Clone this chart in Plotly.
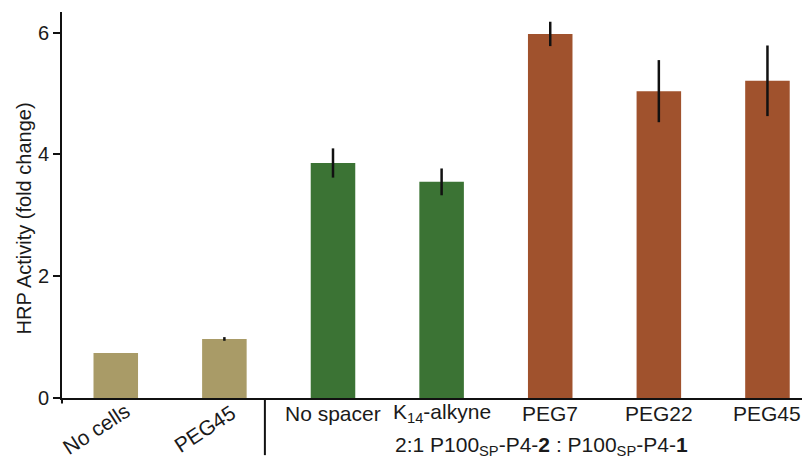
import plotly.graph_objects as go

categories = ["No cells", "PEG45", "No spacer", "K<sub>14</sub>-alkyne", "PEG7", "PEG22", "PEG45"]
values = [0.74, 0.97, 3.86, 3.55, 5.98, 5.04, 5.21]
errors = [0.0, 0.03, 0.24, 0.22, 0.20, 0.51, 0.58]
colors = ["#A99B67", "#A99B67", "#3B7334", "#3B7334", "#A0522D", "#A0522D", "#A0522D"]
rotated = [True, True, False, False, False, False, False]
y_ticks = [0, 2, 4, 6]
group_label = "2:1 P100<sub>SP</sub>-P4-<b>2</b> : P100<sub>SP</sub>-P4-<b>1</b>"
y_title = "HRP Activity (fold change)"

FONT = "Arial, 'Liberation Sans', sans-serif"
xs = list(range(len(categories)))

fig = go.Figure()
fig.add_trace(go.Bar(
    x=xs, y=values, width=0.41,
    marker=dict(color=colors, line=dict(width=0)),
    error_y=dict(type="data", array=errors, visible=True, color="#111111", thickness=2.5, width=0),
    showlegend=False,
))

annotations = []
for i, (lab, rot) in enumerate(zip(categories, rotated)):
    if rot:
        annotations.append(dict(x=i, y=-0.08, xref="x", yref="paper", text=lab, showarrow=False,
                                textangle=-33, xanchor="center", yanchor="middle", xshift=-19,
                                font=dict(family=FONT, size=21, color="#1a1a1a")))
    else:
        annotations.append(dict(x=i, y=-0.04, xref="x", yref="paper", text=lab, showarrow=False,
                                xanchor="center", yanchor="middle",
                                font=dict(family=FONT, size=21, color="#1a1a1a")))
annotations.append(dict(x=4.0, y=-0.125, xref="x", yref="paper", text=group_label, showarrow=False,
                        xanchor="center", yanchor="middle", xshift=-9,
                        font=dict(family=FONT, size=21, color="#1a1a1a")))
annotations.append(dict(x=-0.052, y=0.464, xref="paper", yref="paper", text=y_title, showarrow=False,
                        textangle=-90, xanchor="center", yanchor="middle",
                        font=dict(family=FONT, size=20, color="#1a1a1a")))

shapes = [
    dict(type="line", xref="x", yref="paper", x0=1.373, x1=1.373, y0=0, y1=-0.148,
         line=dict(color="#111111", width=2)),
    dict(type="line", xref="paper", yref="paper", x0=0, x1=0, y0=0, y1=-0.014,
         line=dict(color="#111111", width=2)),
]

fig.update_layout(
    width=802, height=464,
    margin=dict(l=62, r=0, t=12, b=66),
    paper_bgcolor="white", plot_bgcolor="white",
    font=dict(family=FONT, size=18, color="#1a1a1a"),
    annotations=annotations, shapes=shapes,
    xaxis=dict(range=[-0.495, 6.318], showticklabels=False, ticks="", showgrid=False, zeroline=False,
               showline=True, linecolor="#111111", linewidth=2, fixedrange=True),
    yaxis=dict(range=[0, 6.34], tickvals=y_ticks, ticks="outside", ticklen=7, tickwidth=1.5,
               tickcolor="#111111", showgrid=False, zeroline=False, showline=True,
               linecolor="#111111", linewidth=2, tickfont=dict(family=FONT, size=20, color="#1a1a1a")),
)

fig.write_html("out.html")
